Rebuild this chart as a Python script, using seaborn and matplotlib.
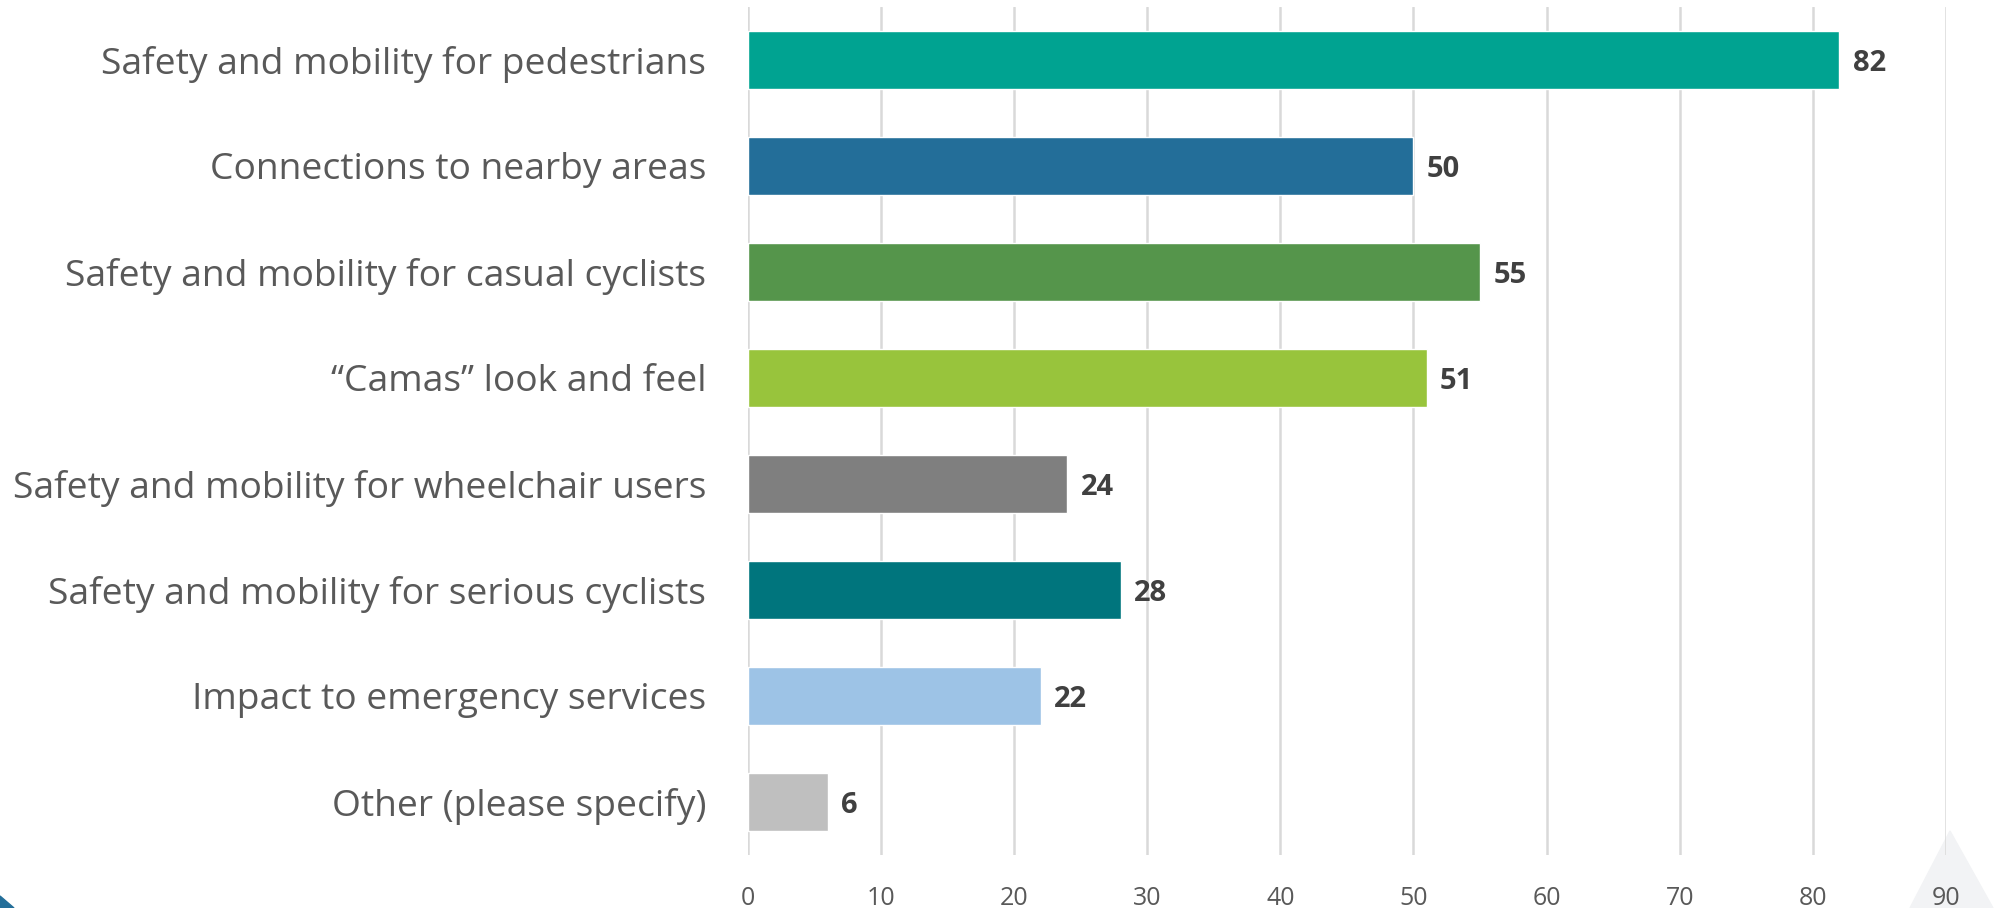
import numpy as np
import pandas as pd
import seaborn as sns
import matplotlib.pyplot as plt
from matplotlib.patches import Polygon

categories = ['Safety and mobility for pedestrians', 'Connections to nearby areas',
              'Safety and mobility for casual cyclists', '\u201cCamas\u201d look and feel',
              'Safety and mobility for wheelchair users', 'Safety and mobility for serious cyclists',
              'Impact to emergency services', 'Other (please specify)']
counts = [82, 50, 55, 51, 24, 28, 22, 6]
bar_colors = ['#00A391', '#236E99', '#55954B', '#98C43C', '#7F7F7F', '#00757D', '#9DC3E6', '#BFBFBF']
x_ticks = list(range(0, 100, 10))

df = pd.DataFrame({'item': categories, 'count': counts})

sns.set_style('white')
plt.rcParams['font.family'] = ['Open Sans', 'DejaVu Sans']

fig = plt.figure(figsize=(20.09, 9.08), dpi=100)

# slide decorations (behind the chart)
fig.patches.append(Polygon([[0, 0], [0, 12 / 908], [14 / 2009, 0]], closed=True,
                           transform=fig.transFigure, color='#236E99', zorder=-5))
fig.patches.append(Polygon([[1910 / 2009, 0], [1950 / 2009, 77 / 908], [1993 / 2009, 0]],
                           closed=True, transform=fig.transFigure, color='#F2F3F5', zorder=-5))

ax = fig.add_axes([0.3723, 0.0584, 0.5963, 0.9339])
ax.patch.set_alpha(0)

sns.barplot(data=df, x='count', y='item', hue='item', palette=bar_colors,
            legend=False, width=0.55, saturation=1, ax=ax)

ax.set_xlim(0, 90)
ax.set_ylim(7.5, -0.5)
ax.set_xticks(x_ticks)
ax.xaxis.grid(True, color='#D9D9D9', linewidth=1.8)
ax.set_axisbelow(True)
for s in ax.spines.values():
    s.set_visible(False)
ax.set_xlabel('')
ax.set_ylabel('')
ax.tick_params(axis='y', length=0, pad=30, labelsize=26.8, labelcolor='#595959')
ax.tick_params(axis='x', length=0, pad=22, labelsize=18, labelcolor='#595959')

for i, v in enumerate(counts):
    ax.text(v + 1.0, i, str(v), va='center_baseline', ha='left', fontsize=21,
            fontweight='bold', color='#404040')

fig.savefig('out.png', dpi=100)
